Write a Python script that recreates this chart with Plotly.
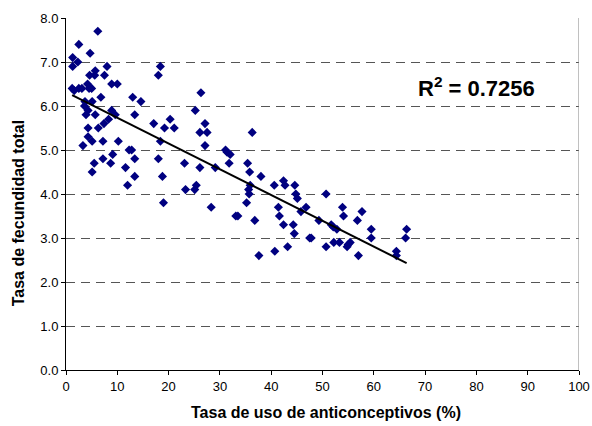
import numpy as np
import plotly.graph_objects as go

# Contraceptive use rate (%) per country
uso = [
    6.2, 2.5, 4.7, 1.3, 2.3, 1.3, 8.0, 5.7, 4.6, 5.6, 7.5, 8.9, 10.0, 1.2, 1.6,
    2.5, 3.1, 4.2, 4.5, 5.0, 6.8, 3.7, 5.1, 3.6, 4.3, 3.9, 5.7, 8.9, 9.6, 8.3,
    7.4, 4.3, 6.3, 4.3, 5.1, 7.2, 10.2, 3.3, 12.3, 12.8, 9.1, 7.2, 5.5, 8.7, 11.6,
    5.1, 12.0,
    18.4, 18.0, 13.0, 14.6, 13.4, 17.1, 20.3, 19.2, 21.1, 25.2, 18.4, 13.4, 18.0,
    23.1, 13.4, 18.8, 23.3, 25.1, 25.4, 19.0,
    26.3, 27.1, 26.1, 27.5, 36.3, 27.1, 26.1, 29.1, 31.1, 31.4, 32.0, 31.8, 35.4,
    35.8, 38.0, 35.9, 35.6, 35.7, 40.6, 42.4, 42.7, 44.6, 44.8, 45.1, 28.3, 35.2,
    33.1, 33.5, 36.8, 41.4, 41.6, 46.8, 45.8, 42.4, 44.3,
    50.7, 44.5, 47.5, 47.8, 49.3, 51.7, 52.1, 52.8, 53.9, 54.1, 57.7, 56.8, 50.7,
    52.2, 53.3, 55.4, 55.0, 54.8, 59.5, 59.5, 57.0, 64.4, 64.4, 66.4, 66.2, 37.6,
    40.7, 43.2,
]

# Total fertility rate per country
fecundidad = [
    7.7, 7.4, 7.2, 7.1, 7.0, 6.9, 6.9, 6.8, 6.7, 6.7, 6.7, 6.5, 6.5, 6.4, 6.35,
    6.4, 6.4, 6.5, 6.4, 6.4, 6.2, 6.1, 6.1, 6.0, 5.9, 5.8, 5.8, 5.9, 5.8, 5.7,
    5.6, 5.5, 5.5, 5.3, 5.2, 5.2, 5.2, 5.1, 5.0, 5.0, 4.9, 4.8, 4.7, 4.7, 4.6,
    4.5, 4.2,
    6.9, 6.7, 6.2, 6.1, 5.8, 5.6, 5.7, 5.5, 5.5, 5.9, 5.2, 4.8, 4.8,
    4.7, 4.4, 4.4, 4.1, 4.1, 4.2, 3.8,
    6.3, 5.6, 5.4, 5.4, 5.4, 5.1, 4.6, 4.6, 5.0, 4.95, 4.9, 4.7, 4.7,
    4.5, 4.4, 4.2, 4.1, 4.0, 4.2, 4.3, 4.2, 4.2, 4.0, 3.9, 3.7, 3.8,
    3.5, 3.5, 3.4, 3.7, 3.5, 3.7, 3.6, 3.3, 3.3,
    4.0, 3.1, 3.0, 3.0, 3.4, 3.3, 3.25, 3.2, 3.7, 3.5, 3.6, 3.4, 2.8,
    2.9, 2.9, 2.9, 2.85, 2.8, 3.2, 3.0, 2.6, 2.7, 2.6, 3.2, 3.0, 2.6,
    2.7, 2.8,
]

r2_texto = "R<sup>2</sup> = 0.7256"
x_ticks = list(range(0, 101, 10))
y_ticks = [i * 1.0 for i in range(0, 9)]

# Least-squares linear trend over the observed range
pend, inter = np.polyfit(uso, fecundidad, 1)
x_lin = np.array([min(uso), max(uso)])
y_lin = inter + pend * x_lin

FONT = "Liberation Sans, Arial, sans-serif"

fig = go.Figure()
fig.add_trace(go.Scatter(
    x=uso, y=fecundidad, mode="markers",
    marker=dict(symbol="diamond", size=7, color="#000080", line=dict(width=0)),
    showlegend=False, hoverinfo="x+y",
))
fig.add_trace(go.Scatter(
    x=x_lin, y=y_lin, mode="lines",
    line=dict(color="black", width=2),
    showlegend=False, hoverinfo="skip",
))

fig.update_layout(
    width=592, height=426,
    margin=dict(l=66, r=13, t=18, b=56),
    paper_bgcolor="white", plot_bgcolor="white",
    font=dict(family=FONT, size=13, color="black"),
    xaxis=dict(
        range=[0, 100], tickvals=x_ticks, showgrid=False, zeroline=False,
        showline=True, linecolor="black", linewidth=1, automargin=False,
        ticks="outside", ticklen=4, tickcolor="black",
        tickfont=dict(family=FONT, size=13, color="black"),
    ),
    yaxis=dict(
        range=[0, 8], tickvals=y_ticks, tickformat=".1f", automargin=False,
        showgrid=True, gridcolor="#555555", griddash="9px,6px", gridwidth=1,
        zeroline=False, showline=True, linecolor="black", linewidth=1,
        ticks="outside", ticklen=4, tickcolor="black",
        tickfont=dict(family=FONT, size=13, color="black"),
    ),
    shapes=[dict(
        type="line", xref="x", yref="y", x0=100, x1=100, y0=0, y1=8,
        line=dict(color="#808080", width=1),
    )],
    annotations=[
        dict(text=r2_texto, x=80, y=6.43, xref="x", yref="y",
             showarrow=False, xanchor="center", yanchor="middle",
             font=dict(family=FONT, size=22, color="black", weight="bold")),
        dict(text="Tasa de fecundidad total", x=-0.093, y=0.446,
             xref="paper", yref="paper", textangle=-90, showarrow=False,
             xanchor="center", yanchor="middle",
             font=dict(family=FONT, size=16, color="black", weight="bold")),
        dict(text="Tasa de uso de anticonceptivos (%)", x=0.507, y=-0.12,
             xref="paper", yref="paper", showarrow=False,
             xanchor="center", yanchor="middle",
             font=dict(family=FONT, size=16, color="black", weight="bold")),
    ],
)

fig.write_html("out.html")
